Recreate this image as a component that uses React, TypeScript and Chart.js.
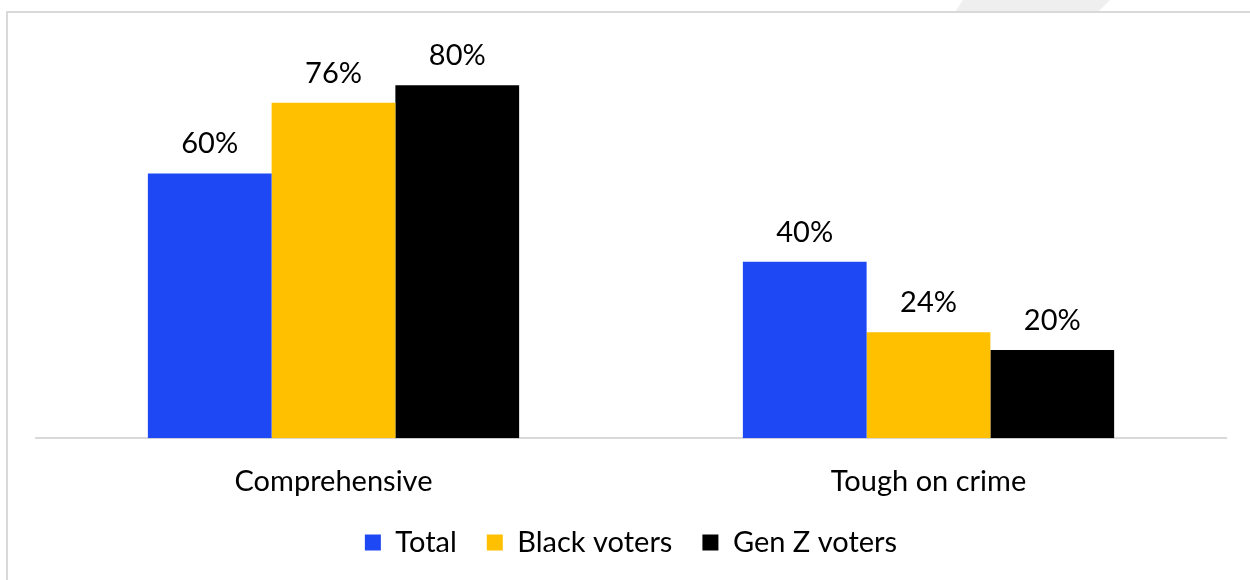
import React, { useEffect, useRef } from "react";
import { Chart, registerables } from "chart.js";

Chart.register(...registerables);

const categories = ["Comprehensive", "Tough on crime"];
const seriesNames = ["Total", "Black voters", "Gen Z voters"];
const totalValues = [60, 40];
const blackVoterValues = [76, 24];
const genZVoterValues = [80, 20];
const seriesColors = ["#1F48F5", "#FFC000", "#000000"];

const FONT = "Lato, 'Noto Sans', sans-serif";

const valueLabelPlugin = {
  id: "valueLabels",
  afterDatasetsDraw(chart: any) {
    const ctx = chart.ctx;
    ctx.save();
    ctx.font = `29px ${FONT}`;
    ctx.fillStyle = "#000";
    ctx.textAlign = "center";
    ctx.textBaseline = "alphabetic";
    chart.data.datasets.forEach((ds: any, i: number) => {
      const meta = chart.getDatasetMeta(i);
      meta.data.forEach((bar: any, j: number) => {
        ctx.fillText(`${ds.data[j]}%`, bar.x, bar.y - 20);
      });
    });
    ctx.restore();
  },
};

export default function App() {
  const ref = useRef<HTMLCanvasElement | null>(null);

  useEffect(() => {
    if (!ref.current) return;
    const seriesValues = [totalValues, blackVoterValues, genZVoterValues];
    const chart = new Chart(ref.current, {
      type: "bar",
      data: {
        labels: categories,
        datasets: seriesNames.map((name, i) => ({
          label: name,
          data: seriesValues[i],
          backgroundColor: seriesColors[i],
          borderWidth: 0,
          barPercentage: 1,
          categoryPercentage: 0.624,
        })),
      },
      options: {
        responsive: false,
        animation: false,
        layout: { padding: { left: 36, right: 24, top: 19, bottom: 13 } },
        scales: {
          x: {
            grid: { display: false, drawTicks: false },
            border: { display: true, color: "#d9d9d9", width: 2 },
            ticks: { font: { family: FONT, size: 29 }, color: "#000", padding: 26 },
            afterFit: (scale: any) => {
              scale.height -= 27;
            },
          },
          y: { display: false, min: 0, max: 95 },
        },
        plugins: {
          legend: {
            position: "bottom",
            labels: {
              boxWidth: 16,
              boxHeight: 16,
              padding: 30,
              color: "#000",
              font: { family: FONT, size: 29 },
            },
          },
          tooltip: { enabled: false },
        },
      },
      plugins: [valueLabelPlugin],
    });
    return () => chart.destroy();
  }, []);

  return (
    <div
      style={{
        position: "fixed",
        left: 0,
        top: 0,
        width: 1250,
        height: 580,
        overflow: "hidden",
        background: "#fff",
      }}
    >
      <div
        style={{
          position: "absolute",
          left: 0,
          top: 0,
          width: 1250,
          height: 12,
          background: "#efefef",
          clipPath: "polygon(963px 0, 1110px 0, 1098px 12px, 955px 12px)",
        }}
      />
      <div style={{ position: "absolute", left: 6, top: 11, width: 1244, height: 2, background: "#d9d9d9" }} />
      <div style={{ position: "absolute", left: 6, top: 11, width: 2, height: 569, background: "#d9d9d9" }} />
      <canvas ref={ref} width={1250} height={580} style={{ position: "absolute", left: 0, top: 0 }} />
    </div>
  );
}
